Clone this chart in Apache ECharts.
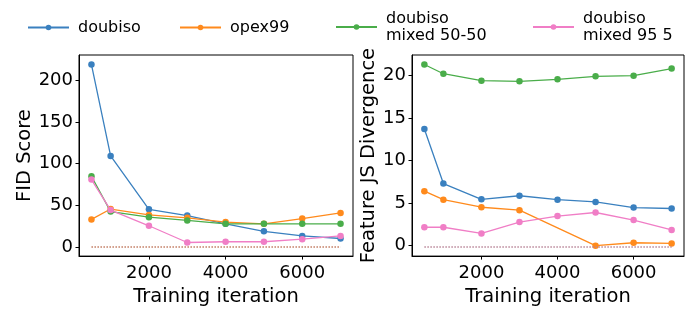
<!DOCTYPE html>
<html>
<head>
<meta charset="utf-8">
<script src="https://cdn.jsdelivr.net/npm/echarts@6/dist/echarts.min.js"></script>
<style>
html,body{margin:0;padding:0;background:#fff;}
#chart{width:699px;height:312px;}
</style>
</head>
<body>
<div id="chart"></div>
<script>
// ---- data ----
var iterations = [500, 1000, 2000, 3000, 4000, 5000, 6000, 7000];
var seriesNames = ['doubiso', 'opex99', 'doubiso mixed 50-50', 'doubiso mixed 95 5'];
var legendLabels = ['doubiso', 'opex99', 'doubiso\nmixed 50-50', 'doubiso\nmixed 95 5'];

var fidDoubiso   = [219.0, 109.4, 45.2, 37.8, 27.9, 18.9, 13.3, 10.2];
var fidOpex99    = [33.1, 45.6, 38.5, 35.0, 29.9, 27.9, 34.2, 40.9];
var fidMixed5050 = [85.0, 42.5, 35.8, 31.9, 27.9, 27.9, 27.9, 27.9];
var fidMixed955  = [81.0, 44.4, 25.5, 5.4, 6.3, 6.3, 9.4, 13.3];
var fidBaseline  = [0, 0];

var jsDoubiso    = [13.71, 7.30, 5.45, 5.87, 5.41, 5.14, 4.48, 4.37];
var jsOpex99     = [6.41, 5.41, 4.52, 4.17, null, 0.00, 0.35, 0.27];
var jsMixed5050  = [21.28, 20.20, 19.39, 19.31, 19.54, 19.89, 19.97, 20.80];
var jsMixed955   = [2.17, 2.17, 1.44, 2.78, 3.48, 3.90, 3.01, 1.85];
var jsBaseline   = [-0.15, -0.15];
var baselineIters = [500, 7000];

var xTicks = [2000, 4000, 6000];
var fidTicks = [0, 50, 100, 150, 200];
var jsTicks = [0, 5, 10, 15, 20];

var colors = ['#3a80bf', '#ff8a1c', '#4aad4a', '#f07ec6'];

// ---- build ----
function pairs(xs, ys) {
  var out = [];
  for (var i = 0; i < xs.length; i++) {
    if (ys[i] !== null && ys[i] !== undefined) out.push([xs[i], ys[i]]);
  }
  return out;
}

var font = 'DejaVu Sans';
var fidSets = [fidDoubiso, fidOpex99, fidMixed5050, fidMixed955];
var jsSets = [jsDoubiso, jsOpex99, jsMixed5050, jsMixed955];

var series = [];
function addSeries(sets, idx) {
  for (var i = 0; i < sets.length; i++) {
    series.push({
      name: seriesNames[i],
      type: 'line',
      xAxisIndex: idx, yAxisIndex: idx,
      data: pairs(iterations, sets[i]),
      symbol: 'circle',
      symbolSize: 6.5,
      color: colors[i],
      lineStyle: { width: 1.3, color: colors[i] },
      itemStyle: { color: colors[i] },
      animation: false,
      z: 2 + i
    });
  }
}
addSeries(fidSets, 0);
addSeries(jsSets, 1);

series.push({
  name: 'baseline-fid', type: 'line', xAxisIndex: 0, yAxisIndex: 0,
  data: pairs(baselineIters, fidBaseline), symbol: 'none',
  lineStyle: { width: 1.5, color: '#c27d63', type: [1.5, 1.5] }, animation: false, z: 10
});
series.push({
  name: 'baseline-js', type: 'line', xAxisIndex: 1, yAxisIndex: 1,
  data: pairs(baselineIters, jsBaseline), symbol: 'none',
  lineStyle: { width: 1.5, color: '#b98598', type: [1.5, 1.5] }, animation: false, z: 10
});

function plain(v) { return String(v); }

function xAxis(idx) {
  return {
    type: 'value', gridIndex: idx, min: 175, max: 7325,
    axisLine: { show: true, onZero: false, lineStyle: { color: '#000', width: 1 } },
    axisTick: { show: true, length: 3.5, lineStyle: { color: '#000', width: 1 }, customValues: xTicks },
    axisLabel: { fontSize: 18, fontFamily: font, color: '#000', margin: 8, customValues: xTicks, formatter: plain },
    splitLine: { show: false },
    name: 'Training iteration', nameLocation: 'middle', nameGap: 28,
    nameTextStyle: { fontSize: 19.5, fontFamily: font, color: '#000' }
  };
}
function yAxis(idx, min, max, ticks, name, gap) {
  return {
    type: 'value', gridIndex: idx, min: min, max: max,
    axisLine: { show: true, onZero: false, lineStyle: { color: '#000', width: 1 } },
    axisTick: { show: true, length: 3.5, lineStyle: { color: '#000', width: 1 }, customValues: ticks },
    axisLabel: { fontSize: 18, fontFamily: font, color: '#000', margin: 6, customValues: ticks, formatter: plain },
    splitLine: { show: false },
    name: name, nameLocation: 'middle', nameGap: gap,
    nameTextStyle: { fontSize: 19.5, fontFamily: font, color: '#000' }
  };
}

var legendLefts = [27, 179, 335, 532];
var legendTops = [19, 19, 10, 10];
var legends = [];
for (var i = 0; i < seriesNames.length; i++) {
  (function (i) {
    legends.push({
      data: [seriesNames[i]],
      left: legendLefts[i], top: legendTops[i],
      itemWidth: 41, itemHeight: 7,
      padding: 0,
      formatter: function () { return legendLabels[i]; },
      textStyle: { fontSize: 16, fontFamily: font, color: '#000', lineHeight: 17, padding: [0, 0, 0, 4] }
    });
  })(i);
}

var chart = echarts.init(document.getElementById('chart'), null, { renderer: 'canvas' });
chart.setOption({
  backgroundColor: '#fff',
  animation: false,
  legend: legends,
  grid: [
    { left: 79, top: 55, width: 274, height: 204, show: true, borderColor: '#000', borderWidth: 1, backgroundColor: 'transparent' },
    { left: 412, top: 55, width: 272, height: 204, show: true, borderColor: '#000', borderWidth: 1, backgroundColor: 'transparent' }
  ],
  xAxis: [xAxis(0), xAxis(1)],
  yAxis: [
    yAxis(0, -10.9, 230.5, fidTicks, 'FID Score', 44),
    yAxis(1, -1.22, 22.4, jsTicks, 'Feature JS Divergence', 33)
  ],
  series: series
});
</script>
</body>
</html>
